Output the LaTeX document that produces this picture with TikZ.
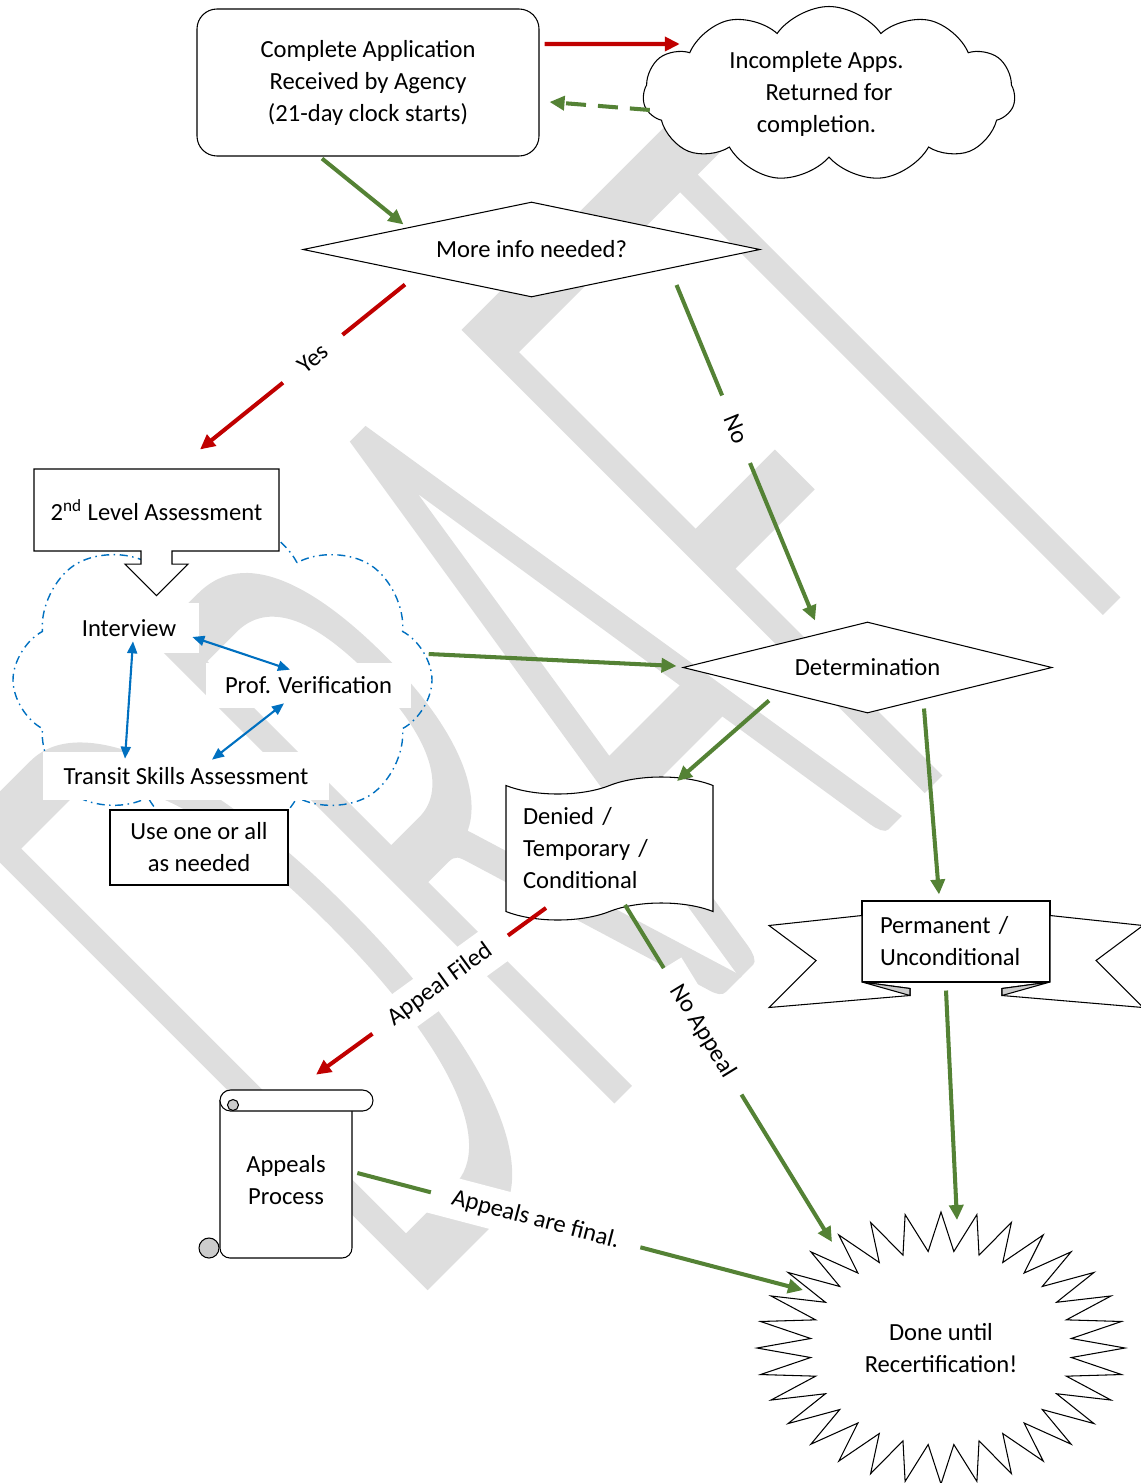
\documentclass[tikz,border=0pt]{standalone}
\usepackage{fontspec}
\usepackage{graphicx}
\setmainfont{Carlito}
\newfontfamily\wmfont[FakeBold=2]{Lato Light}
\usetikzlibrary{arrows.meta,shapes.geometric,shapes.symbols,shapes.arrows}
\definecolor{darkred}{HTML}{C00000}
\definecolor{leaf}{HTML}{548235}
\definecolor{ocean}{HTML}{0070C0}

\begin{document}
\begin{tikzpicture}[x=0.2mm, y=-0.2mm,
	every node/.style={font=\fontsize{14pt}{18.2pt}\selectfont},
	outline/.style={draw, line width=0.6pt, fill=white},
	box/.style={outline, align=center, inner sep=0pt},
	decision/.style={outline, diamond, aspect=4.5, inner sep=0pt},
	tag/.style={fill=white, inner sep=0pt},
	lbl/.style={fill=white, inner xsep=4.4mm, inner ysep=2mm, sloped},
	redline/.style={draw=darkred, line width=2.3pt, -{Triangle[length=3mm,width=2.8mm]}},
	greenline/.style={draw=leaf, line width=2.3pt, -{Triangle[length=3mm,width=2.8mm]}},
	blueline/.style={draw=ocean, line width=1.2pt, {Triangle[length=2.4mm,width=2mm]}-{Triangle[length=2.4mm,width=2mm]}}]
	\useasboundingbox (0,0) rectangle (1140,1483);
	\node[anchor=base, rotate=45, text=black!13, inner sep=0pt] (draft) at (787,918)
		{\resizebox{220mm}{127mm}{\wmfont DRAFT}};

	\node[box, rounded corners=4mm, minimum width=68.4mm, minimum height=29.4mm] (app) at (368,82.5)
		{Complete Application\\Received by Agency\\(21-day clock starts)};
	\node[outline, cloud, cloud puffs=11, cloud puff arc=110, cloud ignores aspect, align=center,
		minimum width=74.4mm, minimum height=33.6mm] (incomplete) at (829,94)
		{Incomplete Apps.\hspace*{5mm}\\Returned for\hspace*{5mm}\\completion.\hspace*{5mm}};
	\node[decision, minimum width=91.4mm, minimum height=19mm] (moreinfo) at (531.5,249.5) {More info needed?};

	\node[cloud, cloud puffs=8, cloud puff arc=125, cloud ignores aspect, draw=ocean, line width=0.8pt,
		dash pattern=on 1.6mm off 0.9mm on 0.3mm off 0.9mm,
		minimum width=83.8mm, minimum height=65mm] (methods) at (222.5,680) {};
	\node[box, arrow box, arrow box arrows={south:8.8mm}, arrow box shaft width=6.2mm,
		arrow box head extend=3.2mm, arrow box head indent=0mm,
		minimum width=49mm, minimum height=16.4mm] (second) at (156.5,510) {2\textsuperscript{nd} Level Assessment};
	\node[tag, minimum width=28mm, minimum height=10mm] (interview) at (129,628) {Interview};
	\node[tag, minimum width=41mm, minimum height=9mm] (profver) at (308.5,685) {Prof. Verification};
	\node[tag, minimum width=57.2mm, minimum height=9.6mm] (transit) at (186,776) {Transit Skills Assessment};
	\node[box, minimum width=35.6mm, minimum height=15mm] (useone) at (199,847.5) {Use one or all\\as needed};

	\node[decision, minimum width=73.8mm, minimum height=18.2mm] (determ) at (867.5,667.5) {Determination};
	\node[outline, tape, tape bend height=3.4mm, text width=34.6mm, align=left, inner xsep=3.4mm,
		minimum width=41.4mm, minimum height=28.6mm] (denied) at (609.5,848.5) {Denied /\\Temporary /\\Conditional};

	\node[box, align=left, text width=30.4mm, inner xsep=3.6mm, minimum height=16.2mm] (perm) at (956,941.5)
		{Permanent /\\Unconditional};
	\begin{scope}[shift={(perm.center)}]
		\filldraw[outline] (-94,-26) -- (-187,-16) -- (-140,19) -- (-187,66) -- (-46,54) -- (-46,47) -- (-94,40.5) -- cycle;
		\filldraw[outline] (94,-26) -- (187,-16) -- (140,19) -- (187,66) -- (46,54) -- (46,47) -- (94,40.5) -- cycle;
		\filldraw[outline, fill=black!20] (-94,40.5) -- (-46,47) -- (-46,54) -- cycle;
		\filldraw[outline, fill=black!20] (94,40.5) -- (46,47) -- (46,54) -- cycle;
	\end{scope}

	\coordinate (appc) at (286,1180);
	\begin{scope}[shift={(appc)}]
		\filldraw[outline, rounded corners=2mm] (-66,-80) -- (-66,78) -- (66,78) -- (66,-69);
		\filldraw[outline, rounded corners=2.1mm] (-66,-90) rectangle (87,-69);
		\filldraw[outline, fill=black!20] (-53,-75) circle[radius=5.5];
		\filldraw[outline, fill=black!20] (-77,68) circle[radius=10];
	\end{scope}
	\node[align=center, minimum width=26.4mm, minimum height=31.2mm, inner sep=0pt] (appeals) at (appc) {Appeals\\Process};

	\coordinate (donec) at (941,1348);
	\begin{scope}[shift={(donec)}]
		\filldraw[outline] plot[samples at={0,...,63}]
			({(184-53*mod(\x,2))*cos(90+5.625*\x)}, {(136-39*mod(\x,2))*sin(90+5.625*\x)}) -- cycle;
	\end{scope}
	\node[ellipse, align=center, minimum width=73.6mm, minimum height=54.4mm, inner sep=0pt] (done) at (donec)
		{Done until\\Recertification!};

	\draw[redline] ([shift={(5,-38.5)}]app.east) -- ([shift={(37,-50)}]incomplete.west);
	\draw[greenline, dash pattern=on 4mm off 2.4mm] ([shift={(7,16)}]incomplete.west) -- ([shift={(10,19.5)}]app.east);
	\draw[greenline] ([shift={(-46,2)}]app.south) -- ([shift={(-128,23)}]moreinfo.north);
	\draw[redline] ([shift={(-126.5,-13)}]moreinfo.south) -- node[lbl, pos=0.45] {Yes} ([shift={(43.5,-19)}]second.north);
	\draw[greenline] ([shift={(-84,35.5)}]moreinfo.east) -- node[lbl, pos=0.43] {No} ([shift={(-52.5,-1)}]determ.north);

	\draw[blueline] ([shift={(-7,9)}]interview.east) -- ([shift={(-18.5,7.5)}]profver.north);
	\draw[blueline] ([shift={(4,-12)}]interview.south) -- ([shift={(-61,7)}]transit.north);
	\draw[blueline] ([shift={(-24.5,-4.5)}]profver.south) -- ([shift={(26,8)}]transit.north);

	\draw[greenline] ([shift={(-4,-26)}]methods.east) -- ([shift={(-6,-1.5)}]determ.west);
	\draw[greenline] ([shift={(-98.5,-13)}]determ.south) -- ([shift={(67.5,-4)}]denied.north);
	\draw[greenline] ([shift={(56.5,-5)}]determ.south) -- ([shift={(-17,-6)}]perm.north);

	\draw[redline] ([shift={(-63.5,-4)}]denied.south) -- node[lbl, pos=0.46] {Appeal Filed} ([shift={(30,-27)}]appeals.north);
	\draw[greenline] ([shift={(15.5,-7)}]denied.south) -- node[lbl, pos=0.375] {No Appeal} ([shift={(-109,-106)}]done.center);
	\draw[greenline] ([shift={(-10,8)}]perm.south) -- ([shift={(16,-128)}]done.center);
	\draw[greenline] ([shift={(5,-7)}]appeals.east) -- node[lbl, pos=0.4] {Appeals are final.} ([shift={(-138,-58)}]done.center);
\end{tikzpicture}
\end{document}
